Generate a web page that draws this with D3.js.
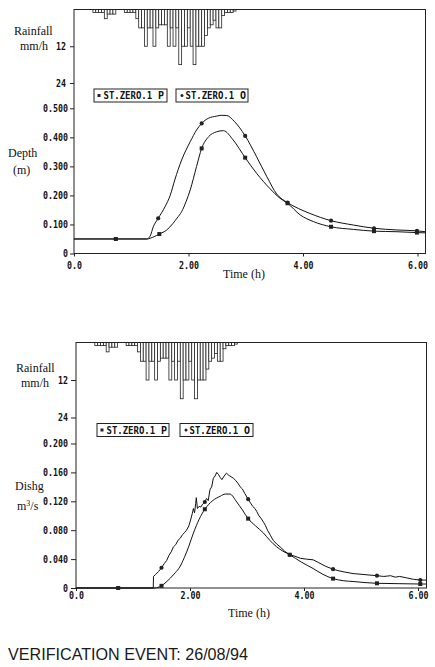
<!DOCTYPE html>
<html>
<head>
<meta charset="utf-8">
<style>
  body { margin: 0; background: #fff; }
  svg { display: block; background: #fff; }
  .frame { fill: none; stroke: #222; stroke-width: 1; }
  .serif { font: 12px "Liberation Serif", "DejaVu Serif", serif; fill: #111; }
  .mono, .axis text { font: bold 10px "DejaVu Sans Mono", monospace; fill: #111; }
  .axis path { display: none; }
  .axis line { stroke: #222; }
  .curve { fill: none; stroke: #111; stroke-width: 1; }
  .rain { fill: #fff; stroke: #222; stroke-width: 0.8; }
  .legend rect { fill: #fff; stroke: #222; stroke-width: 1; }
  .title { font: 16px "Liberation Sans", Arial, sans-serif; fill: #1a1a1a; }
</style>
<script src="https://d3js.org/d3.v7.min.js"></script>
</head>
<body>
<script>
// ---- data ----
const rainStart = 0.33;   // h
const rainStep = 0.05;    // h
const rainfall = [1, 1, 1, 1, 3, 1.5, 1.5, 1.5, 0, 0, 0,
    1, 1, 1, 1, 3, 6, 6, 12, 6, 6, 12, 6, 5, 5, 5, 12, 6, 12, 6,
    18, 12, 12, 6, 12, 18, 12, 12, 12, 8.5, 6, 5, 3.5, 6, 6, 2, 1, 1, 1, 0.5];

const xTicks = [0, 2, 4, 6];
const xTickLabels = ["0.0", "2.00", "4.00", "6.00"];
const rainTicks = [12, 24];
const depthTicks = [0, 0.1, 0.2, 0.3, 0.4, 0.5];
const depthTickLabels = ["0", "0.100", "0.200", "0.300", "0.400", "0.500"];
const dishgTicks = [0, 0.04, 0.08, 0.12, 0.16, 0.2];
const dishgTickLabels = ["0", "0.040", "0.080", "0.120", "0.160", "0.200"];
const legendNames = ["ST.ZERO.1", "ST.ZERO.1"];
const legendTags = ["P", "O"];

// depth (m): O = observed, P = predicted
const depthObs = [[0, 0.05], [1.27, 0.05], [1.33, 0.06], [1.385, 0.092], [1.47, 0.121], [1.59, 0.161],
    [1.68, 0.20], [1.76, 0.253], [1.88, 0.322], [2.03, 0.385], [2.14, 0.425], [2.23, 0.448],
    [2.35, 0.466], [2.49, 0.473], [2.58, 0.476], [2.67, 0.475], [2.80, 0.455], [2.99, 0.405],
    [3.19, 0.333], [3.37, 0.264], [3.54, 0.205], [3.73, 0.175], [3.92, 0.155], [4.12, 0.138],
    [4.49, 0.113], [4.88, 0.098], [5.24, 0.087], [5.64, 0.081], [5.99, 0.078], [6.14, 0.075]];
const depthPred = [[0, 0.05], [1.27, 0.05], [1.40, 0.058], [1.49, 0.067], [1.62, 0.081], [1.73, 0.104],
    [1.80, 0.122], [1.88, 0.144], [1.96, 0.18], [2.03, 0.219], [2.14, 0.299], [2.23, 0.362],
    [2.35, 0.402], [2.49, 0.419], [2.61, 0.423], [2.78, 0.391], [2.99, 0.330], [3.19, 0.276],
    [3.42, 0.224], [3.60, 0.19], [3.73, 0.173], [3.95, 0.133], [4.18, 0.11], [4.49, 0.092],
    [4.88, 0.083], [5.24, 0.077], [5.64, 0.075], [5.99, 0.072], [6.14, 0.071]];
const depthObsMarks = [[0.73, 0.05], [1.47, 0.121], [2.23, 0.448], [2.99, 0.405], [3.73, 0.175],
    [4.49, 0.113], [5.24, 0.087], [5.99, 0.078]];
const depthPredMarks = [[0.73, 0.05], [1.49, 0.067], [2.23, 0.362], [2.99, 0.330], [3.73, 0.173],
    [4.49, 0.092], [5.24, 0.077], [5.99, 0.072]];

// discharge (m3/s)
const dishgObs = [[0, 0], [1.355, 0], [1.36, 0.016], [1.40, 0.019], [1.45, 0.023], [1.50, 0.028],
    [1.55, 0.034], [1.59, 0.038], [1.63, 0.045], [1.67, 0.050], [1.71, 0.057], [1.75, 0.060],
    [1.79, 0.066], [1.83, 0.069], [1.87, 0.074], [1.91, 0.077], [1.94, 0.080], [1.98, 0.086],
    [2.01, 0.094], [2.04, 0.103], [2.06, 0.110], [2.08, 0.104], [2.10, 0.117], [2.11, 0.125],
    [2.13, 0.110], [2.16, 0.113], [2.19, 0.112], [2.22, 0.116], [2.26, 0.119], [2.29, 0.124],
    [2.32, 0.121], [2.35, 0.136], [2.38, 0.140], [2.41, 0.152], [2.44, 0.155], [2.47, 0.160],
    [2.50, 0.157], [2.53, 0.153], [2.56, 0.150], [2.60, 0.155], [2.64, 0.159], [2.68, 0.156],
    [2.72, 0.154], [2.76, 0.152], [2.80, 0.149], [2.84, 0.145], [2.88, 0.140], [2.92, 0.137],
    [2.96, 0.131], [3.02, 0.123], [3.06, 0.118], [3.10, 0.113], [3.14, 0.110], [3.17, 0.106],
    [3.21, 0.100], [3.25, 0.096], [3.29, 0.091], [3.32, 0.087], [3.36, 0.080], [3.41, 0.073],
    [3.46, 0.066], [3.52, 0.061], [3.58, 0.057], [3.66, 0.051], [3.75, 0.046], [3.84, 0.044],
    [3.94, 0.041], [4.04, 0.040], [4.16, 0.039], [4.26, 0.035], [4.38, 0.030], [4.51, 0.026],
    [4.60, 0.024], [4.72, 0.022], [4.86, 0.020], [5.00, 0.019], [5.14, 0.018], [5.28, 0.017],
    [5.40, 0.016], [5.52, 0.017], [5.60, 0.015], [5.68, 0.016], [5.80, 0.014], [5.92, 0.012],
    [6.04, 0.011], [6.15, 0.011]];
const dishgPred = [[0, 0], [1.38, 0], [1.44, 0.001], [1.50, 0.003], [1.58, 0.008], [1.66, 0.014],
    [1.74, 0.021], [1.82, 0.029], [1.90, 0.042], [1.98, 0.058], [2.06, 0.076], [2.16, 0.095],
    [2.26, 0.109], [2.40, 0.121], [2.53, 0.127], [2.62, 0.130], [2.70, 0.130], [2.82, 0.119],
    [2.92, 0.108], [3.02, 0.096], [3.15, 0.086], [3.29, 0.076], [3.40, 0.066], [3.52, 0.057],
    [3.63, 0.051], [3.75, 0.046], [3.95, 0.036], [4.16, 0.027], [4.33, 0.019], [4.51, 0.013],
    [4.70, 0.010], [4.86, 0.009], [5.07, 0.0075], [5.28, 0.0065], [5.65, 0.006], [6.04, 0.0055],
    [6.15, 0.0055]];
const dishgObsMarks = [[0.74, 0], [1.50, 0.028], [2.26, 0.119], [3.02, 0.123], [3.75, 0.046],
    [4.51, 0.026], [5.28, 0.017], [6.04, 0.011]];
const dishgPredMarks = [[0.74, 0], [1.50, 0.003], [2.26, 0.109], [3.02, 0.096], [3.75, 0.046],
    [4.51, 0.013], [5.28, 0.0065], [6.04, 0.0055]];

const W = 435, H = 667;
const svg = d3.select("body").append("svg")
    .attr("width", W).attr("height", H);

// squeeze the mono labels to the narrow bitmap look (~5px per char)
function squeeze(sel, perChar) {
    sel.attr("textLength", function() { return this.textContent.length * perChar; })
        .attr("lengthAdjust", "spacingAndGlyphs");
}

function panel(o) {
    const g = svg.append("g");
    const x = d3.scaleLinear().domain([0, 6]).range([o.x0, o.x6]);
    const yR = d3.scaleLinear().domain([0, 24]).range([o.top, o.rain24]);
    const yV = d3.scaleLinear().domain([0, o.vTicks[o.vTicks.length - 1]]).range([o.bottom, o.vTop]);

    // hanging rainfall bars
    g.append("g").selectAll("rect")
        .data(rainfall)
        .join("rect")
        .attr("class", "rain")
        .attr("x", (d, i) => x(rainStart + i * rainStep))
        .attr("width", x(rainStep) - x(0))
        .attr("y", yR(0))
        .attr("height", d => yR(d) - yR(0));

    g.append("rect").attr("class", "frame")
        .attr("x", o.left).attr("y", o.top)
        .attr("width", o.right - o.left).attr("height", o.bottom - o.top);

    const ra = g.append("g").attr("class", "axis")
        .attr("transform", `translate(${o.left},0)`)
        .call(d3.axisLeft(yR).tickValues(rainTicks).tickSize(o.tick).tickPadding(o.rainPad));
    squeeze(ra.selectAll("text"), 5);

    const va = g.append("g").attr("class", "axis")
        .attr("transform", `translate(${o.left},0)`)
        .call(d3.axisLeft(yV).tickValues(o.vTicks).tickFormat((d, i) => o.vLabels[i])
            .tickSize(o.tick).tickPadding(o.vPad));
    squeeze(va.selectAll("text"), 5);

    const xa = g.append("g").attr("class", "axis")
        .attr("transform", `translate(0,${o.bottom})`)
        .call(d3.axisBottom(x).tickValues(xTicks).tickFormat((d, i) => xTickLabels[i])
            .tickSize(3).tickPadding(o.xPad));
    squeeze(xa.selectAll("text"), 5);

    // curves
    const lineSmooth = d3.line().x(d => x(d[0])).y(d => yV(d[1])).curve(d3.curveMonotoneX);
    const lineRough = d3.line().x(d => x(d[0])).y(d => yV(d[1]));
    g.append("path").attr("class", "curve").attr("d", (o.obsRough ? lineRough : lineSmooth)(o.obs));
    g.append("path").attr("class", "curve").attr("d", lineSmooth(o.pred));

    g.append("g").selectAll("rect")
        .data(o.predMarks)
        .join("rect")
        .attr("x", d => x(d[0]) - 2).attr("y", d => yV(d[1]) - 2)
        .attr("width", 4).attr("height", 4).attr("fill", "#222");
    g.append("g").selectAll("circle")
        .data(o.obsMarks)
        .join("circle")
        .attr("cx", d => x(d[0])).attr("cy", d => yV(d[1]))
        .attr("r", 2.1).attr("fill", "#222");

    // legend boxes
    const lg = g.append("g").attr("class", "legend");
    o.legend.forEach((b, i) => {
        lg.append("rect").attr("x", b[0]).attr("y", o.legendY).attr("width", b[1]).attr("height", 13);
        if (i === 0) {
            lg.append("rect").attr("x", b[0] + 3.5).attr("y", o.legendY + 5)
                .attr("width", 3).attr("height", 3).style("fill", "#222").style("stroke", "none");
        } else {
            lg.append("circle").attr("cx", b[0] + 6).attr("cy", o.legendY + 6.5)
                .attr("r", 1.5).attr("fill", "#222");
        }
        const t = lg.append("text").attr("class", "mono")
            .attr("x", b[0] + 9.5).attr("y", o.legendY + 10).text(legendNames[i]);
        squeeze(t, 5.4);
        lg.append("text").attr("class", "mono")
            .attr("x", b[0] + 64).attr("y", o.legendY + 10).text(legendTags[i]);
    });

    // axis titles
    o.labels.forEach(l => {
        const t = g.append("text").attr("class", "serif").attr("x", l[1]).attr("y", l[2]);
        if (l[3]) {
            t.append("tspan").text("m");
            t.append("tspan").attr("dy", -4).style("font-size", "8px").text("3");
            t.append("tspan").attr("dy", 4).text("/s");
        } else {
            t.text(l[0]);
        }
    });
    g.append("text").attr("class", "serif")
        .attr("x", o.timeX).attr("y", o.timeY).attr("text-anchor", "middle").text("Time (h)");
}

panel({
    left: 74, right: 425.5, top: 9.5, bottom: 253.5,
    x0: 74, x6: 417.5, rain24: 83, vTop: 108.3,
    vTicks: depthTicks, vLabels: depthTickLabels,
    tick: 4, rainPad: 4, vPad: 2, xPad: 5,
    obs: depthObs, pred: depthPred, obsMarks: depthObsMarks, predMarks: depthPredMarks,
    obsRough: false,
    legendY: 89, legend: [[94, 73], [176, 72]],
    labels: [["Rainfall", 14, 34.5], ["mm/h", 20, 49.5], ["Depth", 8, 156.5], ["(m)", 13, 173.5]],
    timeX: 244, timeY: 277.5
});

panel({
    left: 76, right: 426.5, top: 342.5, bottom: 588,
    x0: 76, x6: 418, rain24: 417.5, vTop: 443.5,
    vTicks: dishgTicks, vLabels: dishgTickLabels,
    tick: 5, rainPad: 3, vPad: 3, xPad: 1,
    obs: dishgObs, pred: dishgPred, obsMarks: dishgObsMarks, predMarks: dishgPredMarks,
    obsRough: true,
    legendY: 423.5, legend: [[97, 72], [180, 73]],
    labels: [["Rainfall", 16, 371.5], ["mm/h", 21, 387], ["Dishg", 15, 490], ["m3/s", 17, 509.5, true]],
    timeX: 249, timeY: 617
});

svg.append("text").attr("class", "title")
    .attr("x", 8).attr("y", 660)
    .attr("textLength", 240).attr("lengthAdjust", "spacingAndGlyphs")
    .text("VERIFICATION EVENT: 26/08/94");
</script>
</body>
</html>
